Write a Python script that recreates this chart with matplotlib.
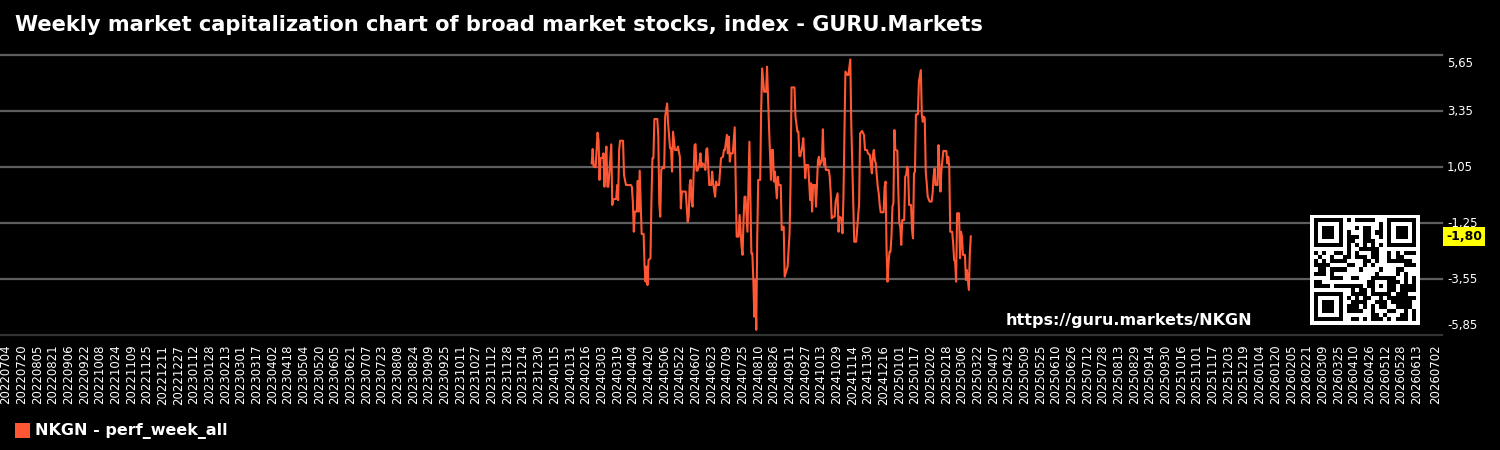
import hashlib
import numpy as np
import matplotlib
matplotlib.use('Agg')
import matplotlib.pyplot as plt
from matplotlib.patches import Rectangle

TITLE = 'Weekly market capitalization chart of broad market stocks, index - GURU.Markets'
SERIES_NAME = 'NKGN - perf_week_all'
URL = 'https://guru.markets/NKGN'

AXIS_START = '2022-07-04'
AXIS_END = '2026-07-02'
SERIES_START = '2024-02-22'

# day offsets from SERIES_START and the value
days = [0, 1, 2, 4, 6, 7, 8, 9, 11, 12, 13, 14, 15, 16, 17, 18, 20, 21, 22, 25,
        26, 27, 28, 29, 32, 33, 35, 40, 41, 42, 43, 44, 46, 47, 48, 49, 51, 53, 54, 55,
        56, 57, 58, 60, 61, 62, 63, 64, 67, 68, 69, 70, 71, 73, 74, 75, 77, 78, 80, 81,
        82, 83, 85, 87, 88, 90, 91, 92,
        96, 98, 99, 100, 101, 102, 103, 105, 106, 107, 108, 110, 111, 112, 113, 115, 116, 117, 118, 120,
        122, 123, 124, 126, 127, 128, 130, 132, 134, 135, 136, 138, 139, 140, 141, 142, 144, 146, 147, 148,
        150, 151, 153, 154, 155, 156, 157, 159, 161, 162, 163, 164, 165, 166, 167, 168, 169, 170, 172, 173,
        174, 176, 178, 179, 181, 183, 184, 185, 186, 187, 189, 190, 191,
        193, 194, 196, 197, 199, 200, 202, 203, 204, 207, 208, 210, 211, 212, 213, 215, 216, 218, 219, 221,
        223, 224, 225, 226, 228, 229, 231, 232, 233, 235, 236, 237, 238, 239, 242, 243, 244, 245, 246, 248,
        249, 251, 252, 253, 255, 256, 257, 259, 261, 262, 264, 265, 267, 268, 270, 272, 273, 274, 276, 278,
        279, 281, 282, 284, 285, 286, 287, 288,
        289, 290, 292, 293, 294, 295, 298, 299, 300, 301, 302, 303, 304, 305, 306, 307, 308, 309, 310, 312,
        313, 314, 315, 316, 317, 319, 320, 321, 322, 323, 324, 326, 327, 328, 329, 330, 331, 333, 334, 336,
        337, 338, 339, 340, 341, 342, 343, 345, 347, 348, 349, 350, 351, 353, 354, 355, 356, 357, 359, 362,
        363, 364, 365, 366, 368, 369, 370, 371, 372, 373, 375, 376, 377, 378, 379, 381, 382, 383, 385, 386,
        387]

perf = [1.20, 1.79, 1.06, 1.04, 2.46, 2.16, 0.52, 1.41, 1.43, 1.61, 0.24, 1.34, 1.89, 0.24, 0.24, 0.79, 1.98, -0.51, -0.28, -0.26,
        0.31, -0.31, 1.75, 2.13, 2.13, 0.72, 0.31, 0.31, 0.24, -0.37, -1.61, -0.78, -0.78, 0.48, -0.78, 0.90, -1.70, -1.70, -3.04, -3.66,
        -3.04, -3.80, -2.77, -2.70, -0.31, 1.41, 1.41, 3.02, 3.02, 2.30, -0.44, -0.99, 0.93, 1.06, 1.00, 3.12, 3.66, 2.84, 1.82, 1.82,
        0.86, 2.50, 1.75, 1.75, 1.89, 1.47, -0.65, 0.04,
        0.04, -1.20, -0.99, 0.31, 0.52, -0.37, -0.58, 1.95, 1.99, 0.90, 0.90, 1.20, 1.61, 1.06, 1.20, 1.13, 0.93, 1.78, 1.82, 0.31,
        0.31, 0.86, 0.38, -0.17, 0.45, 0.31, 0.31, 1.41, 1.47, 1.75, 1.75, 2.37, 1.61, 2.30, 1.27, 1.61, 1.61, 2.68, 0.38, -1.81,
        -1.81, -0.92, -2.22, -2.56, -1.13, -0.17, -0.17, -1.61, 2.09, -0.31, -2.50, -2.50, -3.59, -5.10, -3.59, -5.64, -1.81, 0.52, 0.52, 3.39,
        5.10, 4.14, 4.14, 5.17, 2.71, 0.52, 1.75, 1.75, 0.45, 0.86, -0.24, 0.65, 0.31,
        0.31, -1.54, -1.40, -3.45, -3.18, -3.04, -1.67, 0.38, 4.32, 4.32, 3.12, 2.50, 2.50, 1.50, 1.50, 1.89, 2.23, 0.59, 1.13, 1.13,
        -0.31, 0.38, -0.78, 0.31, 0.31, -0.58, 1.34, 1.47, 1.13, 1.34, 2.60, 1.13, 1.41, 0.93, 0.93, 0.65, -0.03, -1.06, -0.99, -0.99,
        -0.37, -0.03, -1.61, -0.99, -1.06, -1.67, -0.17, 4.97, 4.83, 4.83, 5.47, 2.78, -0.44, -2.02, -2.02, -0.99, -0.44, 2.43, 2.53, 2.36,
        1.75, 1.75, 1.61, 1.54, 1.13, 0.79, 1.54, 1.75,
        1.34, 1.20, 0.24, -0.03, -0.51, -0.81, -0.81, 0.24, 0.45, -2.36, -3.66, -2.91, -2.43, -2.43, -1.81, -0.58, -0.44, 2.57, 1.75, 1.72,
        0.11, -1.26, -1.40, -2.15, -1.13, -1.13, 0.65, 0.72, 1.06, 0.93, -0.51, -0.51, -1.54, -1.88, 0.79, 0.86, 3.21, 3.21, 4.55, 5.03,
        3.19, 2.91, 3.12, 3.05, 0.86, 0.38, -0.17, -0.37, -0.37, -0.03, 0.65, 0.99, 0.31, 0.31, 1.95, 1.06, 0.04, 0.93, 1.71, 1.71,
        1.20, 1.47, 1.06, -1.61, -1.61, -2.09, -2.77, -2.84, -3.66, -0.85, -0.85, -2.70, -1.61, -1.81, -2.56, -2.56, -3.59, -3.18, -4.00, -2.50,
        -1.80]

y_ticks = [5.65, 3.35, 1.05, -1.25, -3.55, -5.85]
y_labels = ['5,65', '3,35', '1,05', '-1,25', '-3,55', '-5,85']

LINE_COLOR = '#ff5733'
W, H = 1500, 450


def fig_box(x, y, w, h):
    # pixel box (from top-left) -> figure fraction
    return [x / W, 1 - (y + h) / H, w / W, h / H]


def qr_matrix(text, n=25):
    bits = ''
    seed = text.encode()
    while len(bits) < n * n:
        seed = hashlib.sha256(seed).digest()
        bits += ''.join(f'{b:08b}' for b in seed)
    m = np.array([int(c) for c in bits[:n * n]]).reshape(n, n)

    def finder(r, c):
        m[max(r - 1, 0):r + 8, max(c - 1, 0):c + 8] = 0
        m[r:r + 7, c:c + 7] = 1
        m[r + 1:r + 6, c + 1:c + 6] = 0
        m[r + 2:r + 5, c + 2:c + 5] = 1

    finder(0, 0)
    finder(0, n - 7)
    finder(n - 7, 0)
    m[6, 8:n - 8] = [(i + 1) % 2 for i in range(8, n - 8)]
    m[8:n - 8, 6] = [(i + 1) % 2 for i in range(8, n - 8)]
    a = n - 9
    m[a - 2:a + 3, a - 2:a + 3] = 1
    m[a - 1:a + 2, a - 1:a + 2] = 0
    m[a, a] = 1
    return np.pad(m, 1)


def main():
    x_dates = np.datetime64(SERIES_START) + np.array(days).astype('timedelta64[D]')
    start = np.datetime64(AXIS_START)
    end = np.datetime64(AXIS_END)
    step = np.timedelta64(16, 'D')
    # every 16th day, last one dropped when it would crowd the end date
    tick_dates = list(np.arange(start, end - step, step)) + [end]

    fig = plt.figure(figsize=(15, 4.5), dpi=100, facecolor='black')
    ax = fig.add_axes(fig_box(0, 55, 1442, 280))
    ax.set_facecolor('black')
    for s in ax.spines.values():
        s.set_visible(False)

    for i, yv in enumerate(y_ticks):
        ax.axhline(yv, color='#333333' if i == len(y_ticks) - 1 else '#5e5e5e',
                   lw=1.6, zorder=1, clip_on=False)

    ax.plot(x_dates, perf, color=LINE_COLOR, lw=1.5, zorder=3)

    ax.set_xlim(start - np.timedelta64(6, 'D'), end + np.timedelta64(7, 'D'))
    ax.set_ylim(-5.85, 5.65)

    ax.set_xticks(tick_dates)
    ax.set_xticklabels([str(d).replace('-', '') for d in tick_dates],
                       rotation=90, fontsize=8.5, color='white')
    ax.tick_params(axis='x', length=0, pad=7)

    # y labels on the right, the outer two pulled inside the plot band
    ax.set_yticks([])
    for i, (yv, lab) in enumerate(zip(y_ticks, y_labels)):
        dy = -9 if i == 0 else (10 if i == len(y_ticks) - 1 else 0)
        ax.annotate(lab, xy=(1, yv), xycoords=('axes fraction', 'data'),
                    xytext=(5, dy), textcoords='offset pixels',
                    ha='left', va='center', fontsize=8.5, color='white',
                    annotation_clip=False)

    ax.annotate(f'{perf[-1]:.2f}'.replace('.', ','), xy=(1, perf[-1]),
                xycoords=('axes fraction', 'data'), xytext=(4, 0),
                textcoords='offset pixels', ha='left', va='center',
                fontsize=9, fontweight='bold', color='black', zorder=10,
                annotation_clip=False,
                bbox=dict(boxstyle='square,pad=0.25', fc='#ffff00', ec='none'))

    fig.text(15 / W, 1 - 25 / H, TITLE, color='white', fontsize=15.1,
             fontweight='bold', ha='left', va='center')

    fig.text(1252 / W, 1 - 320 / H, URL, color='white', fontsize=11.5,
             fontweight='bold', ha='right', va='center')

    qax = fig.add_axes(fig_box(1310, 215, 110, 110))
    qax.imshow(1 - qr_matrix(URL), cmap='gray', vmin=0, vmax=1,
               interpolation='nearest', aspect='auto')
    qax.axis('off')

    fig.patches.append(Rectangle((15 / W, 1 - 438 / H), 15 / W, 15 / H,
                                 transform=fig.transFigure, fc=LINE_COLOR, ec='none'))
    fig.text(35 / W, 1 - 431 / H, SERIES_NAME, color='white', fontsize=11.5,
             fontweight='bold', ha='left', va='center')

    fig.savefig('out.png', dpi=100, facecolor='black')


if __name__ == '__main__':
    assert len(days) == len(perf)
    main()
